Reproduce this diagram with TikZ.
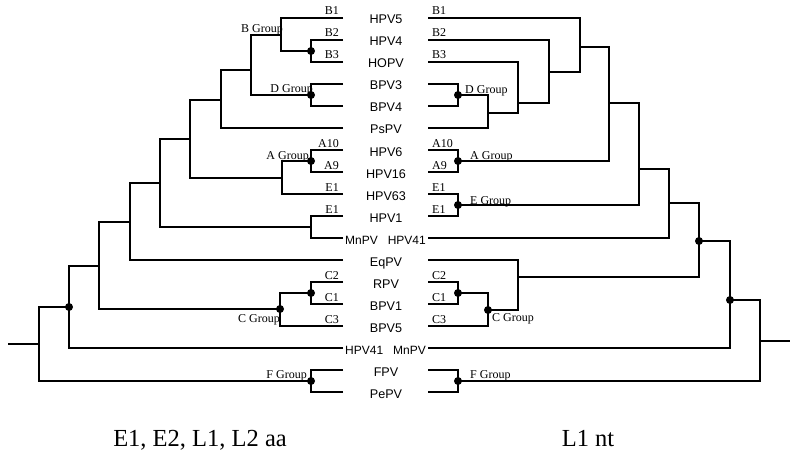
\documentclass[tikz,border=0pt]{standalone}
\usepackage{fontspec}
\setmainfont{Liberation Serif}
\newfontfamily\taxfont{Liberation Sans}
\begin{document}
\begin{tikzpicture}[x=1pt,y=-1pt,
  br/.style={line width=1.6pt, line join=miter},
  dotmark/.style={fill=black},
  tax/.style={font=\taxfont\fontsize{12.6}{14}\selectfont, inner sep=0pt},
  taxs/.style={font=\taxfont\fontsize{12}{14}\selectfont, inner sep=0pt},
  lab/.style={font=\fontsize{12}{14}\selectfont, inner sep=0pt},
  bottomtext/.style={font=\fontsize{24.5}{28}\selectfont, inner sep=0pt}]
\useasboundingbox (0,0) rectangle (796,460);

% leaf ends
\foreach \i in {0,...,17}{
  \coordinate (la\i) at (343,{18+22*\i});
  \coordinate (ra\i) at (428,{18+22*\i});
}

% ---------- left tree internal nodes ----------
\coordinate (lB23) at (311,51);
\coordinate (lB)   at (281,35);
\coordinate (lD)   at (311,95);
\coordinate (lBD)  at (251,70);
\coordinate (lBDP) at (221,100);
\coordinate (lA)   at (311,161);
\coordinate (lAE)  at (282,178);
\coordinate (lN1)  at (190,139);
\coordinate (lHM)  at (311,227);
\coordinate (lN2)  at (160,183);
\coordinate (lN3)  at (130,222);
\coordinate (lC12) at (311,293);
\coordinate (lC)   at (280,309);
\coordinate (lN4)  at (99,266);
\coordinate (lN5)  at (69,307);
\coordinate (lF)   at (311,381);
\coordinate (lroot) at (39,344);
\coordinate (lstart) at (8,344);

\draw[br] (la1) -| (lB23) (la2) -| (lB23);
\draw[br] (la0) -| (lB) (lB23) -| (lB);
\draw[br] (la3) -| (lD) (la4) -| (lD);
\draw[br] (lB) -| (lBD) (lD) -| (lBD);
\draw[br] (lBD) -| (lBDP) (la5) -| (lBDP);
\draw[br] (la6) -| (lA) (la7) -| (lA);
\draw[br] (lA) -| (lAE) (la8) -| (lAE);
\draw[br] (lBDP) -| (lN1) (lAE) -| (lN1);
\draw[br] (la9) -| (lHM) (la10) -| (lHM);
\draw[br] (lN1) -| (lN2) (lHM) -| (lN2);
\draw[br] (lN2) -| (lN3) (la11) -| (lN3);
\draw[br] (la12) -| (lC12) (la13) -| (lC12);
\draw[br] (lC12) -| (lC) (la14) -| (lC);
\draw[br] (lN3) -| (lN4) (lC) -| (lN4);
\draw[br] (lN4) -| (lN5) (la15) -| (lN5);
\draw[br] (la16) -| (lF) (la17) -| (lF);
\draw[br] (lN5) -| (lroot) (lF) -| (lroot);
\draw[br] (lroot) -- (lstart);

\foreach \c in {lB23,lD,lA,lC12,lC,lN5,lF}{\fill[dotmark] (\c) circle[radius=4pt];}

% ---------- right tree internal nodes ----------
\coordinate (rD)   at (458,95);
\coordinate (rDP)  at (488,113);
\coordinate (rN3)  at (518,103);
\coordinate (rN2)  at (549,72);
\coordinate (rN1)  at (580,47);
\coordinate (rA)   at (458,161);
\coordinate (rN4)  at (609,103);
\coordinate (rE)   at (458,205);
\coordinate (rN5)  at (639,169);
\coordinate (rN6)  at (669,203);
\coordinate (rC12) at (458,293);
\coordinate (rC)   at (488,310);
\coordinate (rEqC) at (518,277);
\coordinate (rN7)  at (699,241);
\coordinate (rN8)  at (730,300);
\coordinate (rF)   at (458,381);
\coordinate (rroot) at (760,341);
\coordinate (rend) at (790,341);

\draw[br] (ra3) -| (rD) (ra4) -| (rD);
\draw[br] (rD) -| (rDP) (ra5) -| (rDP);
\draw[br] (ra2) -| (rN3) (rDP) -| (rN3);
\draw[br] (ra1) -| (rN2) (rN3) -| (rN2);
\draw[br] (ra0) -| (rN1) (rN2) -| (rN1);
\draw[br] (ra6) -| (rA) (ra7) -| (rA);
\draw[br] (rN1) -| (rN4) (rA) -| (rN4);
\draw[br] (ra8) -| (rE) (ra9) -| (rE);
\draw[br] (rN4) -| (rN5) (rE) -| (rN5);
\draw[br] (rN5) -| (rN6) (ra10) -| (rN6);
\draw[br] (ra12) -| (rC12) (ra13) -| (rC12);
\draw[br] (rC12) -| (rC) (ra14) -| (rC);
\draw[br] (ra11) -| (rEqC) (rC) -| (rEqC);
\draw[br] (rN6) -| (rN7) (rEqC) -| (rN7);
\draw[br] (rN7) -| (rN8) (ra15) -| (rN8);
\draw[br] (ra16) -| (rF) (ra17) -| (rF);
\draw[br] (rN8) -| (rroot) (rF) -| (rroot);
\draw[br] (rroot) -- (rend);

\foreach \c in {rD,rA,rE,rC12,rC,rN7,rN8,rF}{\fill[dotmark] (\c) circle[radius=4pt];}

% ---------- taxon names ----------
\foreach \i/\n in {0/HPV5,1/HPV4,2/HOPV,3/BPV3,4/BPV4,5/PsPV,6/HPV6,7/HPV16,8/HPV63,9/HPV1,11/EqPV,12/RPV,13/BPV1,14/BPV5,16/FPV,17/PePV}{
  \node[tax, anchor=base] (tx\i) at (386,{24+22*\i}) {\n};
}
\node[taxs, anchor=base west] (tx10a) at (345,244) {MnPV};
\node[taxs, anchor=base east] (tx10b) at (426,244) {HPV41};
\node[taxs, anchor=base west] (tx15a) at (345,354) {HPV41};
\node[taxs, anchor=base east] (tx15b) at (426,354) {MnPV};

% ---------- leaf labels ----------
\foreach \i/\n in {0/B1,1/B2,2/B3,6/A10,7/A9,8/E1,9/E1,12/C2,13/C1,14/C3}{
  \node[lab, anchor=base east] (ll\i) at (339,{15+22*\i}) {\n};
  \node[lab, anchor=base west] (rl\i) at (432,{15+22*\i}) {\n};
}

% ---------- group labels ----------
\node[lab, anchor=base east] (gBl) at (283,33) {B Group};
\node[lab, anchor=base east] (gDl) at (313,93) {D Group};
\node[lab, anchor=base east] (gAl) at (309,159) {A Group};
\node[lab, anchor=base east] (gCl) at (280,322) {C Group};
\node[lab, anchor=base east] (gFl) at (307,378) {F Group};

\node[lab, anchor=base west] (gDr) at (465,94) {D Group};
\node[lab, anchor=base west] (gAr) at (470,159) {A Group};
\node[lab, anchor=base west] (gEr) at (470,204) {E Group};
\node[lab, anchor=base west] (gCr) at (492,321) {C Group};
\node[lab, anchor=base west] (gFr) at (470,378) {F Group};

% ---------- captions ----------
\node[bottomtext, anchor=base] (capl) at (200,446) {E1, E2, L1, L2 aa};
\node[bottomtext, anchor=base] (capr) at (588,446) {L1 nt};
\end{tikzpicture}
\end{document}
